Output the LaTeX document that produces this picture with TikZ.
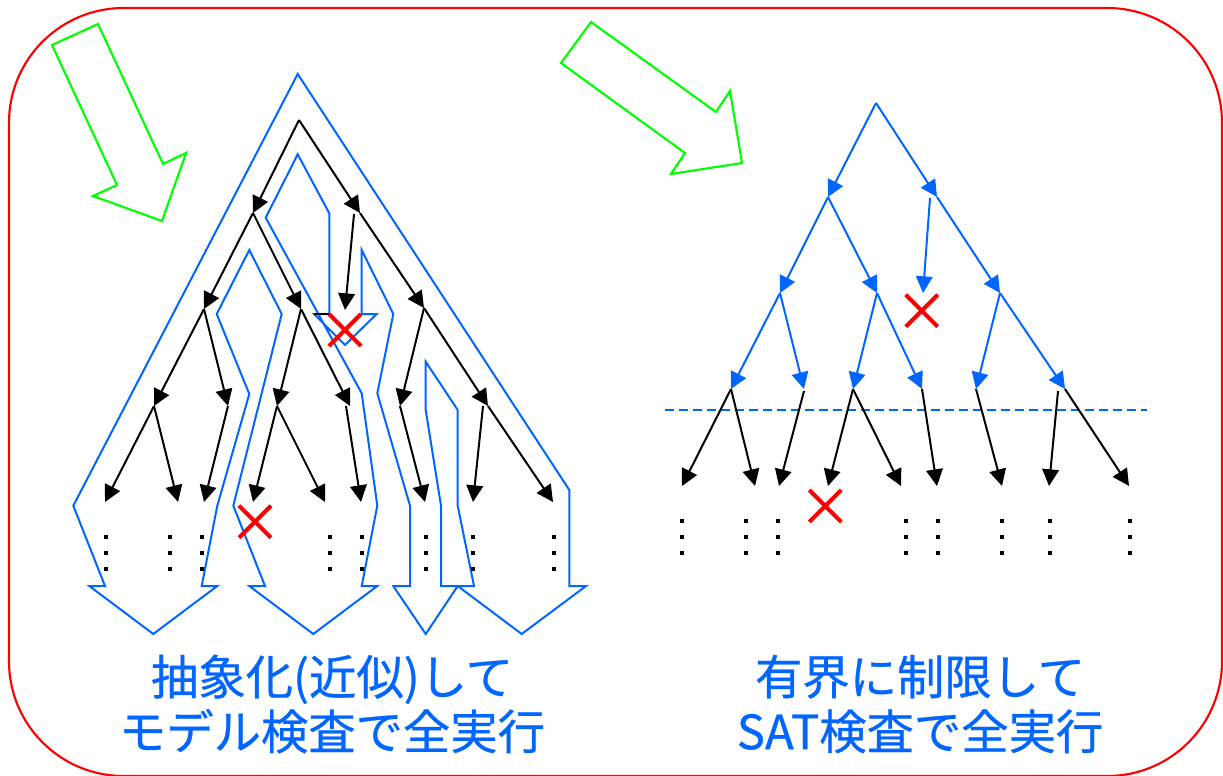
\documentclass[tikz,border=0pt]{standalone}
\usepackage{fontspec}
\newfontfamily\jp[FakeBold=0.6]{Noto Sans CJK JP}
\usetikzlibrary{arrows.meta,shapes.misc}
\definecolor{myblue}{RGB}{0,102,255}
\definecolor{mygreen}{RGB}{0,255,0}
\definecolor{myred}{RGB}{255,0,0}
\begin{document}
\begin{tikzpicture}[x=0.75pt,y=-0.75pt,
  arr/.style={line width=1.5pt,-{Triangle[length=12.5pt,width=12.5pt]}},
  blk/.style={arr,draw=black},
  blu/.style={arr,draw=myblue,fill=myblue},
  outline/.style={draw=myblue,line width=1.5pt,line join=miter},
  greenarrow/.style={draw=mygreen,line width=1.6pt,line join=miter},
  redx/.style={cross out,draw=myred,line width=3pt,minimum size=24pt,inner sep=0pt,outer sep=0pt},
  captxt/.style={text=myblue,font=\jp\fontsize{35.5pt}{41pt}\selectfont,align=center,inner sep=0pt},
  frame/.style={draw=myred,line width=1.6pt,rounded corners=86pt}
]
\useasboundingbox (0,0) rectangle (1223,775);
% frame
\begin{scope}
\clip (0,0) rectangle (1223,775);
\draw[frame] (9,8) rectangle (1222,776);
\end{scope}
% green arrows
\draw[greenarrow] (52,45) -- (98,24) -- (163,164) -- (186,153) -- (162,221) -- (93,196) -- (117,185) -- cycle;
\draw[greenarrow] (591,22) -- (561,63) -- (685,153) -- (671,174) -- (742,163) -- (730,91) -- (716,112) -- cycle;

% ---------- left tree: abstraction outline ----------
\draw[outline] (297.7,74) -- (569.3,490) -- (569.3,586) -- (586,586) -- (521.7,634) -- (457.7,586)
  -- (474,586) -- (457.7,505.7) -- (457.7,410) -- (425.7,361.7) -- (425.7,410) -- (441,505.7)
  -- (441,586) -- (457.7,586) -- (425.7,634) -- (393.3,586) -- (410,586) -- (410,505.7)
  -- (377.3,393.3) -- (393.3,314) -- (361.7,250) -- (361.7,314) -- (376.7,314) -- (345,345)
  -- (314,314) -- (329.3,314) -- (329.3,213.3) -- (297.7,154.3) -- (265.7,217.7)
  -- (361.7,393.3) -- (377.3,505.7) -- (361.7,586) -- (377.3,586) -- (313.3,634) -- (249.3,586)
  -- (265,586) -- (233.3,505.7) -- (281.7,314) -- (249.3,250) -- (216.7,314) -- (249.3,394)
  -- (217.3,505.7) -- (201.7,586) -- (217.3,586) -- (153.3,634) -- (89.3,586) -- (105,586)
  -- (73.3,505.7) -- cycle;
\draw[black,line width=1.5pt] (314,314) -- (329.3,314);

% ---------- left tree nodes ----------
\coordinate (n0) at (299,120);
\coordinate (n1) at (253,213);
\coordinate (n2) at (360,213);
\coordinate (n2s) at (354,214);
\coordinate (n2x) at (345,310);
\coordinate (n11) at (204,309);
\coordinate (n12) at (301,309);
\coordinate (n22) at (424,308);
\coordinate (n111) at (154,406);
\coordinate (n112) at (228,406);
\coordinate (n121) at (277,406);
\coordinate (n122) at (350,406);
\coordinate (n122s) at (346,406);
\coordinate (n221) at (400,406);
\coordinate (n222) at (488,406);
\coordinate (n222s) at (483,406);
\coordinate (a1) at (105,502);
\coordinate (a2) at (178,502);
\coordinate (a3) at (204,502);
\coordinate (a4) at (253,502);
\coordinate (a5) at (325,502);
\coordinate (a6) at (361,502);
\coordinate (a7) at (425,502);
\coordinate (a8) at (473,502);
\coordinate (a9) at (553,502);
\draw[blk] (n0) -- (n1);
\draw[blk] (n0) -- (n2);
\draw[blk] (n1) -- (n11);
\draw[blk] (n1) -- (n12);
\draw[blk] (n2s) -- (n2x);
\draw[blk] (n2) -- (n22);
\draw[blk] (n11) -- (n111);
\draw[blk] (n11) -- (n112);
\draw[blk] (n12) -- (n121);
\draw[blk] (n12) -- (n122);
\draw[blk] (n22) -- (n221);
\draw[blk] (n22) -- (n222);
\draw[blk] (n111) -- (a1);
\draw[blk] (n111) -- (a2);
\draw[blk] (n112) -- (a3);
\draw[blk] (n121) -- (a4);
\draw[blk] (n121) -- (a5);
\draw[blk] (n122s) -- (a6);
\draw[blk] (n221) -- (a7);
\draw[blk] (n222s) -- (a8);
\draw[blk] (n222) -- (a9);
\node[redx] (xl1) at (345,330) {};
\node[redx] (xl2) at (255,521.7) {};
\foreach \x in {106,170,202,330,362,426,473,554}
  \foreach \y in {536.7,552.7,568.7}
    \fill (\x-2,\y-2) rectangle (\x+2,\y+2);

% ---------- right tree ----------
\coordinate (r0) at (876,103);
\coordinate (r1) at (828,197);
\coordinate (r2) at (937,197);
\coordinate (r2s) at (930,198);
\coordinate (r2x) at (923,293);
\coordinate (r11) at (780,293);
\coordinate (r12) at (877,293);
\coordinate (r22) at (1000,293);
\coordinate (r111) at (731,389);
\coordinate (r112) at (804,389);
\coordinate (r112s) at (804,391);
\coordinate (r121) at (853,389);
\coordinate (r122) at (922,389);
\coordinate (r221) at (976,389);
\coordinate (r222) at (1065,389);
\coordinate (r222s) at (1058,391);
\coordinate (b1) at (682,486);
\coordinate (b2) at (755,486);
\coordinate (b3) at (779,486);
\coordinate (b4) at (828,486);
\coordinate (b5) at (901,486);
\coordinate (b6) at (937,486);
\coordinate (b7) at (1002,486);
\coordinate (b8) at (1049,486);
\coordinate (b9) at (1129,486);
\coordinate (dl) at (665,410);
\coordinate (dr) at (1147,410);
\draw[myblue,line width=1.2pt,dash pattern=on 7pt off 3.5pt] (dl) -- (dr);
\draw[blu] (r0) -- (r1);
\draw[blu] (r0) -- (r2);
\draw[blu] (r1) -- (r11);
\draw[blu] (r1) -- (r12);
\draw[blu] (r2s) -- (r2x);
\draw[blu] (r2) -- (r22);
\draw[blu] (r11) -- (r111);
\draw[blu] (r11) -- (r112);
\draw[blu] (r12) -- (r121);
\draw[blu] (r12) -- (r122);
\draw[blu] (r22) -- (r221);
\draw[blu] (r22) -- (r222);
\draw[blk] (r111) -- (b1);
\draw[blk] (r111) -- (b2);
\draw[blk] (r112s) -- (b3);
\draw[blk] (r121) -- (b4);
\draw[blk] (r121) -- (b5);
\draw[blk] (r122) -- (b6);
\draw[blk] (r221) -- (b7);
\draw[blk] (r222s) -- (b8);
\draw[blk] (r222) -- (b9);
\node[redx] (xr1) at (921.7,310.7) {};
\node[redx] (xr2) at (825.3,506) {};
\foreach \x in {682,746,778,906,938,1002,1050,1130}
  \foreach \y in {521,536.7,552.7}
    \fill (\x-2,\y-2) rectangle (\x+2,\y+2);

% ---------- captions ----------
\node[captxt] (capl) at (332,704) {抽象化(近似)して\\モデル検査で全実行};
\node[captxt] (capr) at (920,704) {有界に制限して\\SAT検査で全実行};
\end{tikzpicture}
\end{document}
